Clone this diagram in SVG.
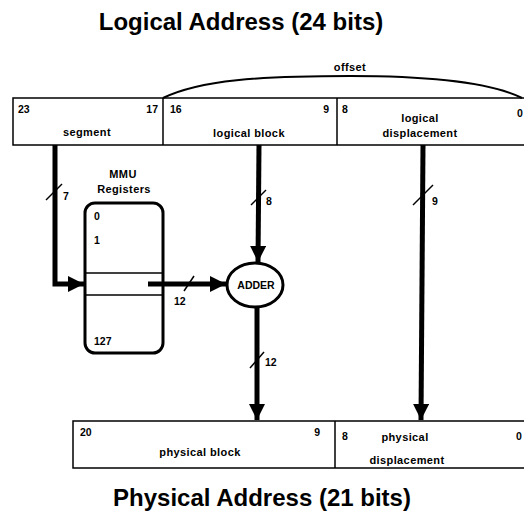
<svg xmlns="http://www.w3.org/2000/svg" width="524" height="519" viewBox="0 0 524 519">
<style>
.box{fill:#fff;stroke:#000;stroke-width:1.5}
.thick{fill:none;stroke:#000;stroke-width:5}
.slash{stroke:#000;stroke-width:1.5}
.t{font-family:"Liberation Sans",Arial,sans-serif;font-weight:bold;font-size:11px;letter-spacing:0.4px;fill:#000}
.n{font-family:"Liberation Sans",Arial,sans-serif;font-weight:bold;font-size:10.5px;fill:#000}
.title{font-family:"Liberation Sans",Arial,sans-serif;font-weight:bold;font-size:24px;fill:#000}
</style>
<defs>
<marker id="ah" viewBox="0 0 10 10" refX="10" refY="5" markerWidth="3.6" markerHeight="3.2" orient="auto" markerUnits="strokeWidth">
<path d="M0,0 L10,5 L0,10 z" fill="#000"/>
</marker>
</defs>
<rect width="524" height="519" fill="#fff"/>
<text class="title" x="241" y="30" text-anchor="middle">Logical Address (24 bits)</text>

<g id="logical-address">
<rect class="box" x="13" y="98" width="515" height="47"/>
<line class="box" x1="163" y1="98" x2="163" y2="145"/>
<line class="box" x1="337" y1="98" x2="337" y2="145"/>
<path d="M163,98 C200,80 260,76 350,76 C430,76 490,82 522,98" fill="none" stroke="#000" stroke-width="2"/>
<text class="t" x="350" y="71" text-anchor="middle">offset</text>
<text class="n" x="18" y="113">23</text>
<text class="n" x="158" y="113" text-anchor="end">17</text>
<text class="n" x="170" y="113">16</text>
<text class="n" x="329" y="113" text-anchor="end">9</text>
<text class="n" x="342" y="113">8</text>
<text class="n" x="517" y="117">0</text>
<text class="t" x="87" y="136" text-anchor="middle">segment</text>
<text class="t" x="249" y="137" text-anchor="middle">logical block</text>
<text class="t" x="420" y="122" text-anchor="middle">logical</text>
<text class="t" x="420" y="137" text-anchor="middle">displacement</text>
</g>

<g id="mmu-registers">
<text class="t" x="123" y="178" text-anchor="middle">MMU</text>
<text class="t" x="124" y="193" text-anchor="middle">Registers</text>
<rect x="85" y="203" width="78" height="150" rx="10" ry="10" fill="#fff" stroke="#000" stroke-width="3"/>
<line class="box" x1="85" y1="273" x2="163" y2="273"/>
<line class="box" x1="85" y1="295" x2="163" y2="295"/>
<text class="n" x="94" y="220">0</text>
<text class="n" x="94" y="244">1</text>
<text class="n" x="94" y="345">127</text>
</g>

<g id="adder">
<ellipse cx="255" cy="285" rx="28" ry="22" fill="#fff" stroke="#000" stroke-width="3"/>
<text class="t" x="256" y="289" text-anchor="middle" style="font-size:10.5px;letter-spacing:0">ADDER</text>
</g>

<g id="physical-address">
<rect class="box" x="73" y="421" width="455" height="47"/>
<line class="box" x1="335" y1="421" x2="335" y2="468"/>
<text class="n" x="80" y="436">20</text>
<text class="n" x="320" y="436" text-anchor="end">9</text>
<text class="n" x="342" y="440">8</text>
<text class="n" x="516" y="440">0</text>
<text class="t" x="200" y="456" text-anchor="middle">physical block</text>
<text class="t" x="405" y="441" text-anchor="middle">physical</text>
<text class="t" x="407" y="464" text-anchor="middle">displacement</text>
</g>

<text class="title" x="262" y="506" text-anchor="middle">Physical Address (21 bits)</text>

<g id="connectors">
<path class="thick" d="M55,145 L55,284 L84,284" marker-end="url(#ah)"/>
<line class="slash" x1="46" y1="200" x2="62" y2="184"/>
<text class="n" x="63" y="200">7</text>

<line class="thick" x1="148" y1="284" x2="226" y2="284" marker-end="url(#ah)"/>
<line class="slash" x1="184" y1="291" x2="194" y2="276"/>
<text class="n" x="174" y="305">12</text>

<line class="thick" x1="259" y1="145" x2="258" y2="262" marker-end="url(#ah)"/>
<line class="slash" x1="251" y1="205" x2="266" y2="190"/>
<text class="n" x="266" y="205">8</text>

<line class="thick" x1="257" y1="307" x2="257" y2="420" marker-end="url(#ah)"/>
<line class="slash" x1="250" y1="368" x2="264" y2="352"/>
<text class="n" x="265" y="366">12</text>

<line class="thick" x1="423" y1="145" x2="421" y2="420" marker-end="url(#ah)"/>
<line class="slash" x1="413" y1="205" x2="433" y2="185"/>
<text class="n" x="432" y="205">9</text>
</g>
</svg>
